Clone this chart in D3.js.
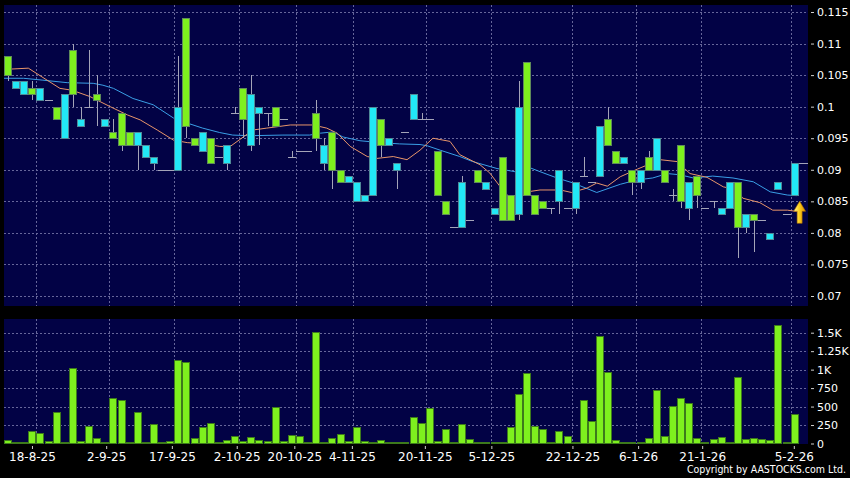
<!DOCTYPE html>
<html>
<head>
<meta charset="utf-8">
<script src="https://d3js.org/d3.v7.min.js"></script>
<style>
body { margin: 0; background: #000; }
svg { display: block; }
</style>
</head>
<body>
<svg width="850" height="478"></svg>
<script>
// daily prices, one entry per trading day shown (98 bars)
var opens = [.108,.103,.102,.103,.101,.101,.100,.095,.109,.097,
    .100,.102,.097,.096,.099,.096,.094,.092,.091,.090,
    .090,.090,.114,.095,.093,.095,.092,.091,.099,.103,
    .094,.099,.099,.100,.098,.092,.093,.093,.099,.091,
    .096,.090,.088,.085,.085,.086,.098,.094,.090,.096,
    .098,.098,.098,.093,.085,.081,.081,.082,.090,.087,
    .083,.092,.086,.083,.107,.086,.085,.084,.085,.084,
    .084,.089,.088,.089,.098,.093,.091,.090,.088,.092,
    .090,.090,.086,.094,.084,.089,.084,.085,.083,.084,
    .088,.081,.083,.082,.079,.087,.083,.086]
var closes = [.105,.104,.104,.102,.103,.101,.098,.102,.102,.098,
    .100,.101,.098,.095,.094,.094,.096,.094,.092,.090,
    .090,.100,.097,.094,.096,.091,.092,.094,.099,.098,
    .102,.100,.099,.097,.098,.092,.093,.093,.095,.094,
    .090,.088,.089,.088,.086,.100,.094,.095,.091,.096,
    .102,.098,.098,.086,.083,.081,.088,.082,.088,.088,
    .084,.082,.082,.100,.086,.083,.084,.084,.090,.084,
    .088,.089,.088,.097,.094,.091,.092,.088,.090,.090,
    .095,.088,.086,.085,.088,.086,.084,.085,.084,.088,
    .081,.083,.082,.082,.080,.088,.083,.091]
var highs = [.108,.104,.104,.104,.103,.101,.100,.102,.110,.100,
    .109,.105,.098,.098,.099,.096,.096,.094,.092,.090,
    .090,.108,.114,.095,.096,.095,.092,.094,.100,.103,
    .105,.100,.099,.100,.098,.093,.093,.093,.101,.095,
    .096,.090,.089,.088,.086,.100,.098,.095,.091,.096,
    .102,.099,.098,.093,.085,.081,.089,.082,.090,.088,
    .084,.092,.086,.104,.107,.086,.085,.084,.090,.084,
    .088,.092,.088,.097,.100,.093,.092,.090,.090,.093,
    .095,.090,.087,.094,.088,.089,.084,.085,.084,.088,
    .088,.083,.083,.082,.080,.088,.083,.091]
var lows = [.104,.103,.102,.101,.101,.101,.098,.095,.100,.097,
    .100,.097,.097,.095,.093,.094,.090,.092,.090,.090,
    .090,.090,.095,.094,.093,.091,.092,.090,.099,.095,
    .093,.094,.097,.097,.098,.092,.093,.093,.093,.090,
    .087,.088,.088,.085,.085,.086,.092,.094,.087,.096,
    .098,.098,.098,.086,.083,.081,.081,.082,.088,.087,
    .083,.082,.082,.082,.086,.083,.084,.083,.083,.084,
    .083,.089,.088,.089,.094,.091,.091,.086,.087,.090,
    .090,.088,.085,.084,.082,.084,.084,.084,.083,.084,
    .076,.080,.077,.082,.079,.087,.083,.086]
// volume in thousands
var volumes = [54,5,5,167,136,36,429,5,1026,36,
    235,81,27,619,588,5,420,3,258,3,
    36,1126,1108,68,226,271,14,45,108,32,
    86,45,32,493,32,113,100,3,1505,3,
    68,127,32,221,36,18,50,5,3,18,
    353,271,475,36,203,14,262,59,5,3,
    3,14,221,665,958,235,203,3,163,104,
    3,588,298,1460,967,54,27,5,14,72,
    723,100,502,610,542,68,14,59,86,18,
    900,59,68,59,45,1605,3,398]

// moving averages: [bar index, value]
var maShort = [[0.5,.1059],[3.5,.1061],[7.4,.1029],[8.9,.1026],[11.1,.1016],[13.6,.1000],[15.7,.0987],
    [17.3,.0979],[19.4,.0963],[21.4,.0947],[23.1,.0943],[25.5,.0941],[27.1,.0937],[28.4,.0937],
    [31.2,.0963],[32.9,.0966],[35.8,.0971],[38.6,.0971],[40.3,.0966],[41.6,.0958],[43.2,.0937],
    [45.3,.0921],[46.5,.0918],[48.5,.0921],[50.2,.0916],[51.8,.0931],[53.4,.0950],[55.5,.0945],
    [56.7,.0924],[59.2,.0908],[60.4,.0895],[61.7,.0873],[62.9,.0855],[63.5,.0850],[64.5,.0864],
    [66.6,.0868],[69.1,.0868],[70.5,.0864],[72.4,.0871],[73.6,.0879],[74.9,.0874],[76.5,.0889],
    [78.6,.0901],[81.4,.0916],[83.5,.0913],[85.1,.0894],[87.2,.0888],[89.2,.0873],[90.9,.0868],
    [91.6,.0855],[93.7,.0848],[95.3,.0836],[97.1,.0836],[98.3,.0834]]
var maLong = [[0.5,.1045],[2.9,.1045],[5.3,.1042],[8.3,.1038],[11.5,.1037],[12.7,.1034],[14,.1029],
    [16.4,.1013],[18.9,.1003],[21.4,.0982],[23.1,.0974],[25,.0966],[27.1,.0959],[28.7,.0955],
    [30.8,.0954],[34.9,.0955],[38.2,.0955],[39.5,.0958],[41.1,.0960],[42.3,.0952],[44.4,.0946],
    [46.9,.0943],[49.3,.0941],[51.8,.0940],[52.7,.0938],[54.3,.0931],[56.7,.0921],[58.3,.0913],
    [61.3,.0902],[63.5,.0897],[65,.0905],[66.6,.0897],[68.7,.0887],[70.7,.0879],[73.6,.0864],
    [75.6,.0873],[76.5,.0877],[78.6,.0884],[80.5,.0887],[82.3,.0894],[83.9,.0892],[85.5,.0887],
    [87.9,.0890],[90.4,.0887],[92.9,.0881],[95,.0865],[97.1,.0860],[98.3,.0859]]

var priceTicks = [0.07,0.075,0.08,0.085,0.09,0.095,0.1,0.105,0.11,0.115]
var volTicks = [0,250,500,750,1000,1250,1500]
var volTickLabels = ["0","250","500","750","1K","1.25K","1.5K"]
var dateLabels = ["18-8-25","2-9-25","17-9-25","2-10-25","20-10-25","4-11-25",
    "20-11-25","5-12-25","22-12-25","6-1-26","21-1-26","5-2-26"]
var dateTickIdx = [3.95,13.1,21.2,29.2,36.3,43.4,52.4,60.6,70.6,78.7,86.6,97.9]
var gridIdx = [4.5,13.5,21.5,29.5,36.5,43.5,52.5,60.5,70.5,78.5,86.5,97.5]

var svg = d3.select("svg")
var FONT = "DejaVu Sans, sans-serif"
var PANEL = "#020245"
var GRID = "#66669a"

var left = 4, right = 808
var mainTop = 5, mainBottom = 306
var volTop = 319, volBottom = 444

var x = d3.scaleLinear().domain([0.5, 99.65]).range([left, right])
var y = d3.scaleLinear().domain([0.07, 0.115]).range([296, 12])
var yv = d3.scaleLinear().domain([0, 1500]).range([443.5, 332.7])

svg.append("rect").attr("width", 850).attr("height", 478).attr("fill", "#000")
svg.append("rect").attr("x", left).attr("y", mainTop)
    .attr("width", right - left).attr("height", mainBottom - mainTop).attr("fill", PANEL)
svg.append("rect").attr("x", left).attr("y", volTop)
    .attr("width", right - left).attr("height", volBottom - volTop).attr("fill", PANEL)

function px(v){ return Math.round(v) + 0.5 }

// gridlines
var grid = svg.append("g").attr("stroke", GRID).attr("stroke-dasharray", "2,2").attr("stroke-width", 1)
priceTicks.forEach(function(p){
    grid.append("line").attr("x1", left).attr("x2", right)
        .attr("y1", px(y(p))).attr("y2", px(y(p)))
})
volTicks.slice(1).forEach(function(v){
    grid.append("line").attr("x1", left).attr("x2", right)
        .attr("y1", px(yv(v))).attr("y2", px(yv(v)))
})
gridIdx.forEach(function(g){
    grid.append("line").attr("x1", px(x(g))).attr("x2", px(x(g)))
        .attr("y1", mainTop).attr("y2", mainBottom)
    grid.append("line").attr("x1", px(x(g))).attr("x2", px(x(g)))
        .attr("y1", volTop).attr("y2", volBottom)
})

var bars = d3.range(opens.length).map(function(i){
    return {idx: i + 1, o: opens[i], c: closes[i], h: highs[i], l: lows[i], v: volumes[i]}
})

// moving averages
var maLine = d3.line()
    .x(function(d){ return x(d[0]) })
    .y(function(d){ return y(d[1]) })
svg.append("path").datum(maLong).attr("fill", "none")
    .attr("stroke", "#3a9fe6").attr("stroke-width", 1).attr("d", maLine)
svg.append("path").datum(maShort).attr("fill", "none")
    .attr("stroke", "#e8956a").attr("stroke-width", 1).attr("d", maLine)

// wicks
svg.append("g").selectAll("line").data(bars).enter().append("line")
    .attr("x1", function(d){ return px(x(d.idx)) })
    .attr("x2", function(d){ return px(x(d.idx)) })
    .attr("y1", function(d){ return Math.round(y(d.h)) })
    .attr("y2", function(d){ return Math.round(y(d.l)) })
    .attr("stroke", "#a4a4b8").attr("stroke-width", 1)

// doji (open == close)
svg.append("g").selectAll("line").data(bars.filter(function(d){ return d.o == d.c }))
    .enter().append("line")
    .attr("x1", function(d){ return Math.round(x(d.idx)) - 4 })
    .attr("x2", function(d){ return Math.round(x(d.idx)) + 4 })
    .attr("y1", function(d){ return px(y(d.o)) })
    .attr("y2", function(d){ return px(y(d.o)) })
    .attr("stroke", "#a4a4b8").attr("stroke-width", 1)

// bodies: cyan up, green down
svg.append("g").selectAll("rect").data(bars.filter(function(d){ return d.o != d.c }))
    .enter().append("rect")
    .attr("x", function(d){ return Math.round(x(d.idx)) - 3.5 })
    .attr("width", 7)
    .attr("y", function(d){ return Math.round(y(Math.max(d.o, d.c))) + 0.5 })
    .attr("height", function(d){ return Math.round(y(Math.min(d.o, d.c))) - Math.round(y(Math.max(d.o, d.c))) })
    .attr("fill", function(d){ return d.c > d.o ? "#22e8f6" : "#7ef01e" })
    .attr("stroke", function(d){ return d.c > d.o ? "#4f8a98" : "#5f8a5a" })
    .attr("stroke-width", 1)

// last price marker
var last = bars[bars.length - 1]
svg.append("line")
    .attr("x1", Math.round(x(last.idx)) + 4).attr("x2", right)
    .attr("y1", px(y(last.c))).attr("y2", px(y(last.c)))
    .attr("stroke", "#a4a4b8")

var defs = svg.append("defs")
var grad = defs.append("linearGradient").attr("id", "arrowGrad")
    .attr("x1", 0).attr("x2", 1).attr("y1", 0).attr("y2", 0)
grad.append("stop").attr("offset", "0%").attr("stop-color", "#fff6a0")
grad.append("stop").attr("offset", "45%").attr("stop-color", "#ffd21e")
grad.append("stop").attr("offset", "100%").attr("stop-color", "#d88a00")
var ax = x(last.idx) + 5, ay = y(0.085)
svg.append("path")
    .attr("d", "M" + ax + "," + ay + " l6,10 h-3.5 v12 h-5 v-12 h-3.5 z")
    .attr("fill", "url(#arrowGrad)").attr("stroke", "#a86a00").attr("stroke-width", 0.6)

// volume bars
svg.append("g").selectAll("rect").data(bars).enter().append("rect")
    .attr("x", function(d){ return Math.round(x(d.idx)) - 3.5 })
    .attr("width", 7)
    .attr("y", function(d){ return Math.min(Math.round(yv(d.v)), 442) + 0.5 })
    .attr("height", function(d){ return 443 - Math.min(Math.round(yv(d.v)), 442) })
    .attr("fill", "#7ef01e").attr("stroke", "#3d7a1c").attr("stroke-width", 1)

// axes
function styleAxis(g){
    g.select(".domain").remove()
    g.selectAll("line").attr("stroke", "#cfcfcf")
    g.selectAll("text").attr("fill", "#fff").attr("font-family", FONT)
}

var priceAxis = d3.axisRight(y).tickValues(priceTicks).tickSize(3).tickPadding(3)
    .tickFormat(function(d){ return String(+d.toFixed(3)) })
svg.append("g").attr("transform", "translate(811,0)").call(priceAxis)
    .call(styleAxis).selectAll("text").attr("font-size", 11)

var volAxis = d3.axisRight(yv).tickValues(volTicks).tickSize(3).tickPadding(3)
    .tickFormat(function(d, i){ return volTickLabels[i] })
svg.append("g").attr("transform", "translate(811,0)").call(volAxis)
    .call(styleAxis).selectAll("text").attr("font-size", 11)

var dateAxis = d3.axisBottom(x).tickValues(dateTickIdx).tickSize(3).tickPadding(3)
    .tickFormat(function(d, i){ return dateLabels[i] })
svg.append("g").attr("transform", "translate(0,446)").call(dateAxis)
    .call(styleAxis).selectAll("text").attr("font-size", 12)

svg.append("text").attr("x", 846).attr("y", 473).attr("text-anchor", "end")
    .attr("font-family", "DejaVu Sans Condensed, DejaVu Sans, sans-serif")
    .attr("font-size", 10.5).attr("fill", "#fff")
    .text("Copyright by AASTOCKS.com Ltd.")
</script>
</body>
</html>
